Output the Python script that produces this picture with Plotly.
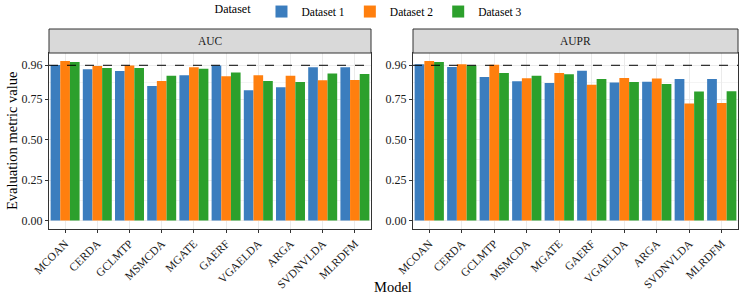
import plotly.graph_objects as go

models = ["MCOAN", "CERDA", "GCLMTP", "MSMCDA", "MGATE", "GAERF", "VGAELDA", "ARGA", "SVDNVLDA", "MLRDFM"]
datasets = ["Dataset 1", "Dataset 2", "Dataset 3"]
colors = ["#3b7dbe", "#ff7f0e", "#2ca02c"]

auc_d1 = [0.962, 0.935, 0.925, 0.832, 0.898, 0.958, 0.806, 0.824, 0.948, 0.948]
auc_d2 = [0.987, 0.956, 0.958, 0.863, 0.948, 0.892, 0.898, 0.896, 0.867, 0.869]
auc_d3 = [0.980, 0.943, 0.943, 0.896, 0.939, 0.915, 0.863, 0.857, 0.910, 0.906]

aupr_d1 = [0.966, 0.950, 0.888, 0.861, 0.851, 0.927, 0.853, 0.859, 0.875, 0.875]
aupr_d2 = [0.987, 0.966, 0.964, 0.880, 0.912, 0.839, 0.882, 0.878, 0.724, 0.727]
aupr_d3 = [0.980, 0.958, 0.912, 0.896, 0.904, 0.875, 0.857, 0.845, 0.798, 0.800]

panels = ["AUC", "AUPR"]
series = {"AUC": [auc_d1, auc_d2, auc_d3], "AUPR": [aupr_d1, aupr_d2, aupr_d3]}

y_ticks = [0.00, 0.25, 0.50, 0.75, 0.96]
y_minor = [0.125, 0.375, 0.625, 0.855]
ref_line = 0.96

W, H = 740, 297
FONT = "Liberation Serif"
fig = go.Figure()

x_domains = [[49 / W, 371 / W], [413 / W, 738 / W]]
y_dom = [1 - 228.5 / H, 1 - 53 / H]
strip = [1 - 53 / H, 1 - 29 / H]

for p, name in enumerate(panels):
    xa = "x" if p == 0 else "x2"
    ya = "y" if p == 0 else "y2"
    for i, ds in enumerate(datasets):
        fig.add_trace(go.Bar(
            x=models, y=series[name][i], name=ds,
            marker=dict(color=colors[i], line=dict(width=0)),
            legendgroup=ds, showlegend=(p == 0),
            xaxis=xa, yaxis=ya,
        ))
    axs = "" if p == 0 else "2"
    fig.update_layout(**{
        "xaxis" + axs: dict(
            domain=x_domains[p], anchor=ya, showgrid=True, gridcolor="#ebebeb", gridwidth=1,
            showline=True, linecolor="#333333", linewidth=1, mirror=True,
            ticks="outside", ticklen=3, tickcolor="#333333", tickangle=-45,
            tickfont=dict(family=FONT, size=11.5, color="#1a1a1a"),
            categoryorder="array", categoryarray=models, zeroline=False, automargin=False,
        ),
        "yaxis" + axs: dict(
            domain=y_dom, anchor=xa, range=[-0.049, 1.036],
            tickvals=y_ticks, ticktext=[f"{v:.2f}" for v in y_ticks],
            showgrid=True, gridcolor="#ebebeb", gridwidth=1,
            minor=dict(tickvals=y_minor, showgrid=True, gridcolor="#f4f4f4", gridwidth=0.5, ticks=""),
            showline=True, linecolor="#333333", linewidth=1, mirror=True,
            ticks="outside", ticklen=3, tickcolor="#333333",
            tickfont=dict(family=FONT, size=12, color="#1a1a1a"), zeroline=False, automargin=False,
        ),
    })
    # reference line
    fig.add_shape(type="line", xref=f"{xa} domain", yref=ya, x0=0, x1=1, y0=ref_line, y1=ref_line,
                  line=dict(color="black", width=1, dash="dash"))
    # strip
    fig.add_shape(type="rect", xref="paper", yref="paper", x0=x_domains[p][0], x1=x_domains[p][1],
                  y0=strip[0], y1=strip[1], fillcolor="#d9d9d9", line=dict(color="#333333", width=1), layer="above")
    fig.add_annotation(text=name, xref="paper", yref="paper", x=sum(x_domains[p]) / 2, y=sum(strip) / 2,
                       xanchor="center", yanchor="middle",
                       showarrow=False, font=dict(family=FONT, size=11.5, color="#1a1a1a"))

fig.add_annotation(text="Evaluation metric value", xref="paper", yref="paper", x=12 / W, y=1 - 141 / H,
                   xanchor="center", yanchor="middle",
                   textangle=-90, showarrow=False, font=dict(family=FONT, size=14.5, color="black"))
fig.add_annotation(text="Model", xref="paper", yref="paper", x=393 / W, y=1 - 287 / H,
                   xanchor="center", yanchor="middle",
                   showarrow=False, font=dict(family=FONT, size=14.5, color="black"))

fig.update_layout(
    width=W, height=H, margin=dict(l=0, r=0, t=0, b=0, autoexpand=False),
    paper_bgcolor="white", plot_bgcolor="white",
    barmode="group", bargap=0.1, bargroupgap=0,
    font=dict(family=FONT, color="black"),
    legend=dict(orientation="h", x=0.5, xanchor="center", y=1.01, yanchor="top",
                title=dict(text="Dataset ", font=dict(family=FONT, size=12)),
                font=dict(family=FONT, size=11.5), itemwidth=30),
)

fig.write_html("out.html")
